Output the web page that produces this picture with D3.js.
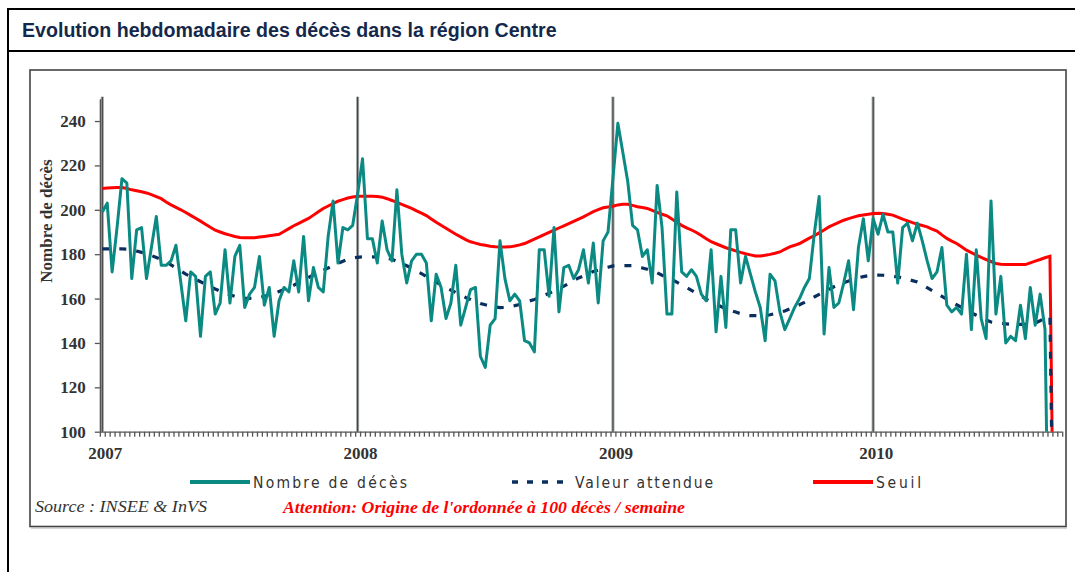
<!DOCTYPE html>
<html lang="fr">
<head>
<meta charset="UTF-8">
<title>Evolution hebdomadaire des décès</title>
<script src="https://d3js.org/d3.v7.min.js"></script>
<style>
  body { margin: 0; background: #fff; }
  svg text { font-family: "Liberation Serif", "Times New Roman", serif; }
</style>
</head>
<body>
<div id="chart"></div>
<script>
// Weekly deaths in region Centre, one value per week from week 1 of 2007
// (trailing 0 = empty cell in the sheet, falls below the axis origin)
const deces = [
  199, 203, 172, 192, 214, 212, 169, 191, 192, 169,
  183, 197, 175, 175, 177, 184, 167, 150, 172, 170,
  143, 170, 172, 153, 158, 182, 158, 179, 184, 156,
  162, 165, 179, 157, 165, 143, 159, 165, 163, 177,
  163, 188, 159, 174, 165, 163, 188, 204, 176, 192,
  191, 193, 207, 223, 187, 187, 176, 195, 182, 177,
  209, 180, 167, 177, 180, 180, 176, 150, 171, 165,
  151, 158, 175, 148, 156, 164, 165, 134, 129, 148,
  151, 186, 169, 159, 162, 159, 141, 140, 136, 182,
  182, 161, 192, 154, 174, 175, 169, 173, 182, 167,
  185, 158, 186, 190, 214, 239, 226, 213, 193, 191,
  179, 182, 167, 211, 192, 153, 153, 208, 172, 170,
  173, 170, 162, 159, 182, 145, 170, 147, 191, 191,
  167, 179, 171, 163, 156, 141, 171, 168, 154, 146,
  151, 156, 160, 165, 169, 189, 206, 144, 174, 156,
  158, 167, 177, 155, 183, 196, 177, 196, 189, 198,
  190, 190, 167, 192, 194, 186, 194, 186, 177, 169,
  172, 183, 157, 154, 156, 153, 180, 146, 182, 151,
  142, 204, 153, 170, 140, 143, 141, 157, 142, 165,
  148, 162, 146, 0
];

const attendu = [
  182.4, 182.4, 182.4, 182.4, 182.4, 182.3, 181.9, 181.4, 180.8, 180.3,
  179.4, 178.5, 177.6, 176.6, 175.2, 173.8, 172.4, 171.0, 169.9, 168.7,
  167.6, 166.4, 165.4, 164.3, 163.3, 162.3, 161.7, 161.0, 160.5, 160.1,
  160.1, 160.2, 160.4, 161.0, 161.6, 162.2, 163.2, 164.1, 165.1, 166.0,
  167.2, 168.3, 169.5, 170.6, 171.7, 172.7, 173.8, 174.8, 175.8, 176.8,
  177.7, 178.3, 178.6, 178.8, 178.8, 178.8, 178.7, 178.5, 178.2, 177.7,
  176.8, 175.8, 174.8, 173.7, 172.4, 171.2, 170.0, 168.7, 167.4, 166.2,
  164.9, 163.8, 162.7, 161.6, 160.5, 159.6, 158.7, 157.8, 157.2, 156.7,
  156.3, 155.9, 156.0, 156.4, 156.8, 157.3, 158.1, 158.9, 159.6, 160.4,
  161.4, 162.4, 163.4, 164.3, 165.6, 166.8, 168.1, 169.3, 170.2, 171.2,
  172.2, 172.8, 173.5, 174.1, 174.7, 174.8, 174.8, 174.8, 174.8, 174.4,
  173.8, 173.2, 172.5, 171.6, 170.5, 169.6, 168.6, 167.4, 166.2, 165.0,
  163.7, 162.4, 161.0, 159.7, 158.5, 157.5, 156.4, 155.4, 154.6, 153.9,
  153.2, 152.5, 152.3, 152.3, 152.3, 152.3, 152.7, 153.2, 153.8, 154.4,
  155.3, 156.2, 157.2, 158.3, 159.5, 160.7, 161.9, 163.0, 164.1, 165.3,
  166.3, 167.1, 167.9, 168.7, 169.4, 169.9, 170.3, 170.6, 170.6, 170.5,
  170.3, 170.1, 169.8, 169.3, 168.7, 168.1, 167.5, 166.2, 164.9, 163.6,
  162.3, 161.0, 159.7, 158.4, 157.2, 156.0, 154.8, 153.6, 152.5, 151.5,
  150.4, 149.4, 149.0, 148.8, 148.6, 148.4, 148.4, 148.4, 148.4, 148.4,
  149.0, 150.0, 151.2, 152.0, 0
];

const seuil = [
  209.6, 209.8, 209.9, 210.0, 210.0, 209.6, 209.0, 208.6, 208.1, 207.6,
  206.8, 205.9, 205.0, 203.5, 202.2, 201.1, 200.0, 198.8, 197.5, 196.2,
  194.9, 193.5, 192.1, 190.8, 190.0, 189.2, 188.6, 188.0, 187.5, 187.4,
  187.4, 187.4, 187.7, 188.0, 188.3, 188.6, 189.0, 190.2, 191.5, 192.8,
  193.9, 195.0, 196.1, 197.6, 199.1, 200.6, 201.7, 202.8, 203.9, 204.6,
  205.3, 205.8, 206.1, 206.1, 206.1, 206.1, 206.0, 205.7, 205.0, 204.2,
  203.3, 202.4, 201.5, 200.6, 199.5, 198.5, 197.4, 195.9, 194.4, 193.0,
  191.7, 190.3, 189.0, 187.8, 186.6, 185.6, 185.0, 184.4, 184.0, 183.6,
  183.3, 183.2, 183.2, 183.3, 183.7, 184.2, 184.8, 185.8, 186.8, 187.8,
  188.8, 189.8, 190.8, 191.8, 192.8, 193.8, 194.8, 195.8, 196.8, 198.0,
  199.2, 200.1, 200.9, 201.3, 201.6, 202.2, 202.5, 202.5, 202.0, 201.4,
  201.0, 200.6, 199.7, 198.8, 198.0, 197.3, 195.9, 194.4, 193.0, 191.9,
  190.9, 189.8, 188.4, 187.0, 185.6, 184.7, 183.8, 182.9, 182.2, 181.5,
  180.8, 180.2, 179.7, 179.2, 179.2, 179.5, 179.9, 180.4, 181.0, 182.2,
  183.3, 184.0, 184.8, 186.0, 187.2, 188.3, 189.6, 190.9, 192.3, 193.3,
  194.3, 195.3, 196.0, 196.7, 197.3, 197.7, 198.0, 198.3, 198.4, 198.3,
  198.0, 197.6, 196.7, 195.8, 195.0, 194.2, 193.5, 192.9, 192.3, 191.3,
  190.4, 188.7, 187.1, 185.9, 184.8, 183.3, 181.8, 180.7, 179.6, 178.6,
  177.6, 176.7, 175.8, 175.5, 175.3, 175.3, 175.3, 175.3, 175.3, 176.1,
  176.9, 177.6, 178.4, 179.1, 0
];

const years = ["2007", "2008", "2009", "2010"];
const yearStart = [0, 52, 104, 157];   // week index of week 1 (2009 has 53 weeks)
const yTicks = [100, 120, 140, 160, 180, 200, 220, 240];
const nWeeks = 196;                    // categories on the x axis

const legendItems = [
  { name: "Nombre de décès", key: "deces" },
  { name: "Valeur attendue", key: "attendu" },
  { name: "Seuil", key: "seuil" }
];

const colors = { deces: "#0b8a84", attendu: "#0a2f5f", seuil: "#ff0000" };

const width = 1075, height = 572;
const svg = d3.select("#chart").append("svg")
    .attr("width", width)
    .attr("height", height);

// frames
svg.append("line").attr("x1", 8).attr("x2", 8).attr("y1", 8).attr("y2", height)
    .attr("stroke", "#000").attr("stroke-width", 2);
svg.append("line").attr("x1", 7).attr("x2", width).attr("y1", 9).attr("y2", 9)
    .attr("stroke", "#000").attr("stroke-width", 2);
svg.append("line").attr("x1", 7).attr("x2", width).attr("y1", 51).attr("y2", 51)
    .attr("stroke", "#000").attr("stroke-width", 2);

svg.append("text")
    .attr("x", 22).attr("y", 37)
    .style("font-family", "'Liberation Sans', Arial, sans-serif")
    .style("font-weight", "bold")
    .style("font-size", "19.6px")
    .attr("fill", "#14284b")
    .text("Evolution hebdomadaire des décès dans la région Centre");

svg.append("rect")
    .attr("x", 30).attr("y", 70).attr("width", 1036).attr("height", 456.5)
    .attr("fill", "none").attr("stroke", "#444").attr("stroke-width", 1.6);
svg.append("line").attr("x1", 31).attr("x2", 1067).attr("y1", 528).attr("y2", 528)
    .attr("stroke", "#aaa").attr("stroke-width", 1);

// scales
const x = d3.scaleLinear().domain([-0.5, nWeeks - 0.5]).range([99.85, 1062.2]);
const y = d3.scaleLinear().domain([100, 250]).range([431.7, 98.85]);

// year separators
svg.selectAll(".yearline")
    .data(yearStart)
    .join("line")
    .attr("class", "yearline")
    .attr("x1", d => x(d)).attr("x2", d => x(d))
    .attr("y1", y(250) - 2).attr("y2", y(100))
    .attr("stroke", "#9a9f9f").attr("stroke-width", 3);
svg.selectAll(".yearline2")
    .data(yearStart)
    .join("line")
    .attr("class", "yearline2")
    .attr("x1", d => x(d)).attr("x2", d => x(d))
    .attr("y1", y(250) - 2).attr("y2", y(100))
    .attr("stroke", "#3a3a3a").attr("stroke-width", 1);

// axes
const yAxis = svg.append("g")
    .attr("transform", `translate(${x(-0.5)},0)`)
    .call(d3.axisLeft(y).tickValues(yTicks).tickSize(5).tickSizeOuter(0).tickPadding(9));
yAxis.selectAll("text")
    .style("font-family", "'Liberation Serif', 'Times New Roman', serif")
    .style("font-weight", "bold").style("font-size", "17px").attr("fill", "#333");

const xAxis = svg.append("g")
    .attr("transform", `translate(0,${y(100)})`)
    .call(d3.axisBottom(x).tickValues(d3.range(nWeeks + 1).map(i => i - 0.5))
        .tickSize(5).tickSizeOuter(0).tickFormat(""));

svg.selectAll(".domain, .tick line").attr("stroke", "#555").attr("stroke-width", 1.3);

svg.selectAll(".yearlabel")
    .data(years)
    .join("text")
    .attr("class", "yearlabel")
    .attr("x", (d, i) => x(yearStart[i]) + 3)
    .attr("y", 459)
    .attr("text-anchor", "middle")
    .style("font-weight", "bold").style("font-size", "17px")
    .attr("fill", "#333")
    .text(d => d);

svg.append("text")
    .attr("transform", "translate(52,221) rotate(-90)")
    .attr("text-anchor", "middle")
    .style("font-weight", "bold").style("font-size", "17px")
    .attr("fill", "#333")
    .text("Nombre de décès");

// series
svg.append("clipPath").attr("id", "plot")
    .append("rect").attr("x", x(-0.5)).attr("y", 80)
    .attr("width", 1066 - x(-0.5)).attr("height", y(100) - 80);

const line = d3.line().x((d, i) => x(i)).y(d => y(d));
const plot = svg.append("g").attr("clip-path", "url(#plot)");

plot.append("path").datum(seuil)
    .attr("d", line).attr("fill", "none")
    .attr("stroke", colors.seuil).attr("stroke-width", 3);
plot.append("path").datum(attendu)
    .attr("d", line).attr("fill", "none")
    .attr("stroke", colors.attendu).attr("stroke-width", 3.2)
    .attr("stroke-dasharray", "7,10");
plot.append("path").datum(deces)
    .attr("d", line).attr("fill", "none")
    .attr("stroke", colors.deces).attr("stroke-width", 3)
    .attr("stroke-linejoin", "round");

// legend
const legendX = [190, 512, 813];
const legendW = [154, 138, 45];
const legend = svg.selectAll(".legend")
    .data(legendItems)
    .join("g")
    .attr("class", "legend")
    .attr("transform", (d, i) => `translate(${legendX[i]},482)`);

legend.append("line")
    .attr("x1", 0).attr("x2", 60).attr("y1", 0).attr("y2", 0)
    .attr("stroke", d => colors[d.key])
    .attr("stroke-width", d => d.key === "attendu" ? 3.5 : 4)
    .attr("stroke-dasharray", d => d.key === "attendu" ? "6,9" : null);

legend.append("text")
    .attr("x", 63).attr("y", 6)
    .style("font-family", "'Liberation Sans Narrow', 'DejaVu Sans Condensed', sans-serif")
    .style("font-size", "15.5px")
    .attr("fill", "#333")
    .attr("textLength", (d, i) => legendW[i])
    .attr("lengthAdjust", "spacing")
    .text(d => d.name);

svg.append("text")
    .attr("x", 35).attr("y", 512)
    .style("font-style", "italic").style("font-size", "17px")
    .attr("fill", "#333")
    .attr("textLength", 172).attr("lengthAdjust", "spacingAndGlyphs")
    .text("Source : INSEE & InVS");

svg.append("text")
    .attr("x", 283).attr("y", 513)
    .style("font-style", "italic").style("font-weight", "bold").style("font-size", "16px")
    .attr("fill", "#ff0000")
    .attr("textLength", 402).attr("lengthAdjust", "spacingAndGlyphs")
    .text("Attention: Origine de l'ordonnée à 100 décès / semaine");
</script>
</body>
</html>
